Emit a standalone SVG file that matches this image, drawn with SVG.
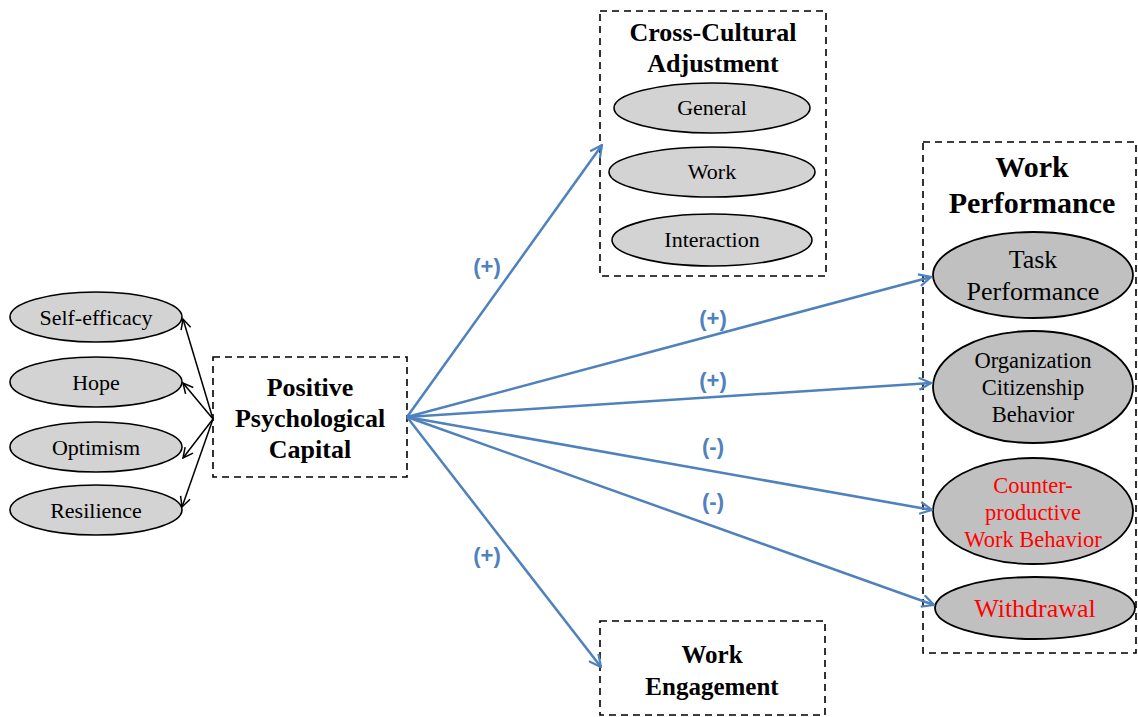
<svg xmlns="http://www.w3.org/2000/svg" width="1138" height="717" viewBox="0 0 1138 717">
<defs>
<marker id="ab" viewBox="0 0 14 14" refX="13" refY="7" markerWidth="14" markerHeight="14" markerUnits="userSpaceOnUse" orient="auto">
<path d="M1,1 L13,7 L1,13" fill="none" stroke="#4f81bd" stroke-width="2.2"/>
</marker>
<marker id="ak" viewBox="0 0 12 12" refX="11" refY="6" markerWidth="12" markerHeight="12" markerUnits="userSpaceOnUse" orient="auto">
<path d="M1,1 L11,6 L1,11" fill="none" stroke="#000" stroke-width="1.5"/>
</marker>
</defs>
<style>
.box{fill:#fff;stroke:#000;stroke-width:1.6;stroke-dasharray:7,5}
.el1{fill:#d3d3d3;stroke:#000;stroke-width:1.6}
.el2{fill:#c0c0c0;stroke:#000;stroke-width:1.8}
text.t{font-family:'Liberation Serif','Times New Roman','DejaVu Serif',serif;text-anchor:middle;fill:#000}
text.b{font-weight:bold}
text.red{fill:#ff0000}
text.lab{font-family:'Liberation Sans',Arial,sans-serif;font-weight:bold;font-size:22px;fill:#4f81bd;text-anchor:middle}
.bl{stroke:#4f81bd;stroke-width:2.5;fill:none;marker-end:url(#ab)}
.kl{stroke:#000;stroke-width:1.5;fill:none;marker-end:url(#ak)}
</style>
<rect width="1138" height="717" fill="#fff"/>

<g id="selfefficacy"><ellipse class="el1" cx="96" cy="317" rx="86" ry="25"/><text class="t" x="96" y="325" font-size="22">Self-efficacy</text></g>
<g id="hope"><ellipse class="el1" cx="96" cy="382" rx="86" ry="25"/><text class="t" x="96" y="390" font-size="22">Hope</text></g>
<g id="optimism"><ellipse class="el1" cx="96" cy="447" rx="86" ry="25"/><text class="t" x="96" y="455" font-size="22">Optimism</text></g>
<g id="resilience"><ellipse class="el1" cx="96" cy="510" rx="86" ry="25"/><text class="t" x="96" y="518" font-size="22">Resilience</text></g>

<g id="ppc"><rect class="box" x="213" y="357" width="194" height="120"/>
<text class="t b" x="310" y="396" font-size="26">Positive</text>
<text class="t b" x="310" y="427" font-size="26">Psychological</text>
<text class="t b" x="310" y="458" font-size="26">Capital</text></g>

<g id="cca"><rect class="box" x="600" y="11" width="226" height="265"/>
<text class="t b" x="713" y="41" font-size="26">Cross-Cultural</text>
<text class="t b" x="713" y="72" font-size="26">Adjustment</text>
<ellipse class="el1" cx="712" cy="108" rx="98" ry="25"/><text class="t" x="712" y="115" font-size="22">General</text>
<ellipse class="el1" cx="712" cy="172" rx="103" ry="25"/><text class="t" x="712" y="179" font-size="22">Work</text>
<ellipse class="el1" cx="712" cy="240" rx="100" ry="26"/><text class="t" x="712" y="247" font-size="22">Interaction</text></g>

<g id="wp"><rect class="box" x="923" y="142" width="213" height="511"/>
<text class="t b" x="1032" y="177" font-size="30">Work</text>
<text class="t b" x="1032" y="213" font-size="30">Performance</text>
<g id="task"><ellipse class="el2" cx="1033" cy="275" rx="100" ry="43"/>
<text class="t" x="1033" y="268" font-size="26">Task</text>
<text class="t" x="1033" y="300" font-size="26">Performance</text></g>
<g id="ocb"><ellipse class="el2" cx="1033" cy="387" rx="100" ry="56"/>
<text class="t" x="1033" y="368" font-size="22.5">Organization</text>
<text class="t" x="1033" y="395" font-size="22.5">Citizenship</text>
<text class="t" x="1033" y="422" font-size="22.5">Behavior</text></g>
<g id="cwb"><ellipse class="el2" cx="1033" cy="511" rx="100" ry="53"/>
<text class="t red" x="1033" y="493" font-size="22.5">Counter-</text>
<text class="t red" x="1033" y="520" font-size="22.5">productive</text>
<text class="t red" x="1033" y="547" font-size="22.5">Work Behavior</text></g>
<g id="withdrawal"><ellipse class="el2" cx="1035" cy="608" rx="100" ry="31"/>
<text class="t red" x="1035" y="617" font-size="26">Withdrawal</text></g></g>

<g id="we"><rect class="box" x="600" y="621" width="225" height="94"/>
<text class="t b" x="712" y="663" font-size="25">Work</text>
<text class="t b" x="712" y="695" font-size="25">Engagement</text></g>

<g id="connectors">
<line class="kl" x1="213" y1="419" x2="183" y2="319"/>
<line class="kl" x1="213" y1="419" x2="183" y2="383"/>
<line class="kl" x1="213" y1="419" x2="183" y2="458"/>
<line class="kl" x1="213" y1="419" x2="182" y2="507"/>
<line class="bl" x1="407" y1="417" x2="602" y2="145"/>
<line class="bl" x1="407" y1="417" x2="931" y2="277"/>
<line class="bl" x1="407" y1="417" x2="931" y2="383"/>
<line class="bl" x1="407" y1="417" x2="932" y2="510"/>
<line class="bl" x1="407" y1="417" x2="934" y2="605"/>
<line class="bl" x1="407" y1="417" x2="601" y2="667"/>
<text class="lab" x="487" y="274">(+)</text>
<text class="lab" x="713" y="326">(+)</text>
<text class="lab" x="713" y="388">(+)</text>
<text class="lab" x="713" y="454">(-)</text>
<text class="lab" x="713" y="509">(-)</text>
<text class="lab" x="487" y="563">(+)</text>
</g>
</svg>
